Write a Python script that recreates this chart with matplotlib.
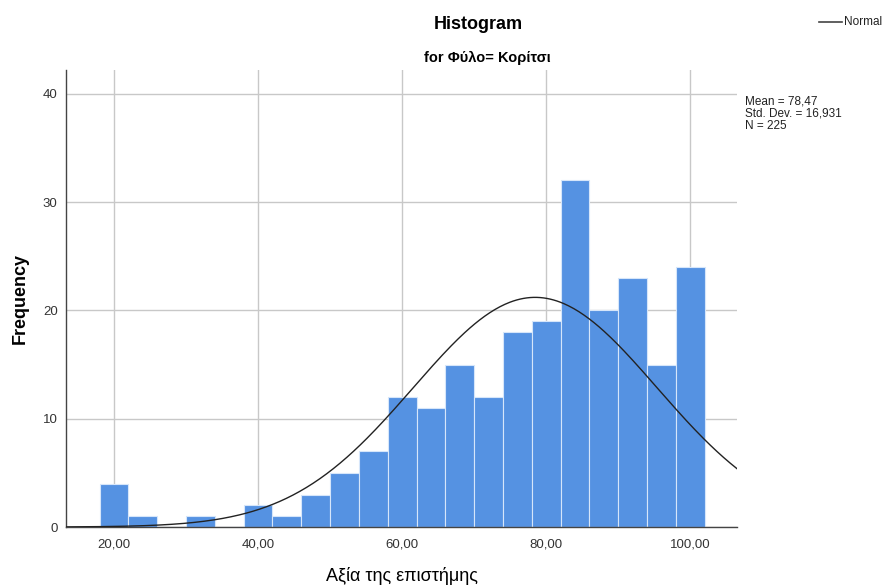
import numpy as np
import matplotlib
matplotlib.use("Agg")
import matplotlib.pyplot as plt

plt.rcParams['font.family'] = ['Liberation Sans', 'DejaVu Sans']

# Histogram data: bin edges (width 4) and counts
bin_left = [18, 22, 26, 30, 34, 38, 42, 46, 50, 54, 58, 62, 66, 70, 74, 78, 82, 86, 90, 94, 98]
counts = [4, 1, 0, 1, 0, 2, 1, 3, 5, 7, 12, 11, 15, 12, 18, 19, 32, 20, 23, 15, 24]
bin_width = 4

mean = 78.47
std = 16.931
n = 225

x_ticks = [20, 40, 60, 80, 100]
x_tick_labels = ["20,00", "40,00", "60,00", "80,00", "100,00"]
y_ticks = [0, 10, 20, 30, 40]

fig = plt.figure(figsize=(8.84, 5.87), dpi=100)
ax = fig.add_axes([0.0747, 0.1022, 0.759, 0.7785])

ax.set_axisbelow(True)
ax.grid(True, color='#c8c8c8', linewidth=1.0)

ax.bar(bin_left, counts, width=bin_width, align='edge',
       color='#5592e2', edgecolor='#d6e6fa', linewidth=0.8, zorder=2)

xmin, xmax = 13.33, 106.5
xs = np.linspace(xmin, xmax, 400)
pdf = n * bin_width / (std * np.sqrt(2 * np.pi)) * np.exp(-0.5 * ((xs - mean) / std) ** 2)
ax.plot(xs, pdf, color='#222222', linewidth=1.0, zorder=3)

ax.set_xlim(xmin, xmax)
ax.set_ylim(0, 42.2)
ax.set_xticks(x_ticks)
ax.set_xticklabels(x_tick_labels)
ax.set_yticks(y_ticks)
ax.tick_params(axis='both', length=0, labelsize=9.5, colors='#333333', pad=8)
ax.tick_params(axis='y', pad=6)

for s in ['top', 'right']:
    ax.spines[s].set_visible(False)
for s in ['left', 'bottom']:
    ax.spines[s].set_color('#444444')
    ax.spines[s].set_linewidth(1.0)

# Axis titles
fig.text(0.023, 0.492, "Frequency", rotation=90, ha='center', va='center',
         fontsize=13, fontweight='bold')
fig.text(0.455, 0.019, "Αξία της επιστήμης", ha='center', va='center', fontsize=13)

fig.text(0.541, 0.958, "Histogram", ha='center', va='center', fontsize=13, fontweight='bold')
fig.text(0.551, 0.902, "for Φύλο= Κορίτσι", ha='center', va='center', fontsize=10.5, fontweight='bold')

# Summary statistics
fig.text(0.843, 0.838, f"Mean = 78,47\nStd. Dev. = 16,931\nN = {n}", ha='left', va='top',
         fontsize=8.5, linespacing=1.05, color='#222222')

# Legend entry for the normal curve
fig.lines.append(plt.Line2D([0.927, 0.953], [0.962, 0.962], transform=fig.transFigure,
                            color='#444444', linewidth=1.2))
fig.text(0.955, 0.962, "Normal", ha='left', va='center', fontsize=8.5, color='#222222')

fig.savefig("out.png", dpi=100)
